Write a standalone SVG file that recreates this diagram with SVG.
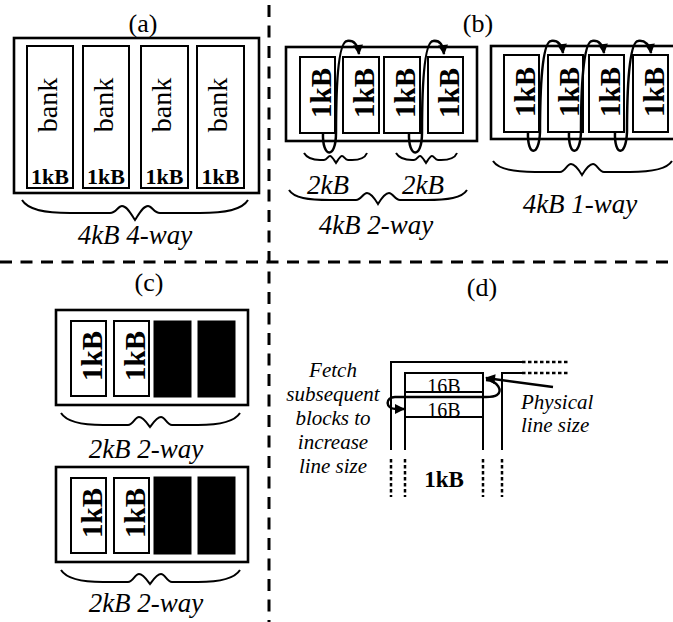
<svg xmlns="http://www.w3.org/2000/svg" width="673" height="622" viewBox="0 0 673 622">
<defs>
<marker id="ah" viewBox="0 0 10 10" refX="9" refY="5" markerWidth="11" markerHeight="10" markerUnits="userSpaceOnUse" orient="auto"><path d="M0,0 L10,5 L0,10 z" fill="#000"/></marker>
</defs>
<style>
.outer{fill:none;stroke:#000;stroke-width:2.6}
.box{fill:#fff;stroke:#000;stroke-width:2}
.blk{fill:#000;stroke:#000;stroke-width:1}
.t{font-family:"Liberation Serif","Times New Roman",serif;fill:#000}
.lbl{font-size:26px;text-anchor:middle}
.it{font-style:italic;font-size:27px;text-anchor:middle}
.b29{font-weight:bold;font-size:29px;text-anchor:middle}
.b22{font-weight:bold;font-size:22px;text-anchor:middle}
.bank{font-size:28px;text-anchor:middle}
.sm{font-style:italic;font-size:21px}
.brace{fill:none;stroke:#000;stroke-width:2}
.loop{fill:none;stroke:#000;stroke-width:2.5;marker-end:url(#ah)}
.dash{fill:none;stroke:#000;stroke-width:3;stroke-dasharray:12 8.5}
.ln{fill:none;stroke:#000;stroke-width:2}
.dot{fill:none;stroke:#000;stroke-width:2.5;stroke-dasharray:3.5 2.5}
</style>
<rect x="0" y="0" width="673" height="622" fill="#fff"/>

<g id="dividers">
<path class="dash" d="M 0 262 H 673"/>
<path class="dash" d="M 269 5 V 622"/>
</g>

<g id="panel-a">
<text class="t lbl" x="143" y="32">(a)</text>
<rect class="outer" x="14" y="38" width="245" height="155"/>
<g id="a-bank1"><rect class="box" x="27" y="46" width="46" height="142"/><text class="t bank" transform="translate(57,105) rotate(-90)">bank</text><text class="t b22" x="50" y="184">1kB</text></g>
<g id="a-bank2"><rect class="box" x="83" y="46" width="46" height="142"/><text class="t bank" transform="translate(113,105) rotate(-90)">bank</text><text class="t b22" x="106" y="184">1kB</text></g>
<g id="a-bank3"><rect class="box" x="141" y="46" width="47" height="142"/><text class="t bank" transform="translate(171,105) rotate(-90)">bank</text><text class="t b22" x="164.5" y="184">1kB</text></g>
<g id="a-bank4"><rect class="box" x="197" y="46" width="47" height="142"/><text class="t bank" transform="translate(227,105) rotate(-90)">bank</text><text class="t b22" x="220.5" y="184">1kB</text></g>
<path class="brace" d="M 22 200 C 28 210, 45 213, 70 213 L 110 213 C 116 213, 118 206, 122 206 C 127 206, 131 214, 135 220 C 139 214, 143 206, 148 206 C 152 206, 154 213, 160 213 L 200 213 C 225 213, 242 210, 248 200"/>
<text class="t it" x="135" y="244">4kB 4-way</text>
</g>

<g id="panel-b">
<text class="t lbl" x="478" y="32">(b)</text>
<g id="b-2way">
<rect class="outer" x="286" y="47" width="191" height="94"/>
<rect class="box" x="300" y="57" width="35" height="76"/><text class="t b29" transform="translate(331,93) rotate(-90)">1kB</text>
<rect class="box" x="343" y="57" width="36" height="76"/><text class="t b29" transform="translate(374,93) rotate(-90)">1kB</text>
<rect class="box" x="384" y="57" width="36" height="76"/><text class="t b29" transform="translate(415,93) rotate(-90)">1kB</text>
<rect class="box" x="428" y="57" width="35" height="76"/><text class="t b29" transform="translate(459,93) rotate(-90)">1kB</text>
<path class="brace" d="M 304 153 C 307 158, 313 160, 320 160 L 324 160 C 327 160, 328 156, 330 156 C 332 156, 334 160, 336 163 C 338 160, 340 156, 342 156 C 344 156, 345 160, 348 160 L 352 160 C 359 160, 365 158, 367 153"/>
<path class="brace" d="M 396 153 C 399 158, 405 160, 412 160 L 414 160 C 417 160, 418 156, 420 156 C 422 156, 424 160, 426 163 C 428 160, 430 156, 432 156 C 434 156, 435 160, 438 160 L 441 160 C 448 160, 455 158, 457 153"/>
<text class="t it" x="328" y="194">2kB</text>
<text class="t it" x="423" y="194">2kB</text>
<path class="brace" d="M 289 190 C 294 198, 308 200, 330 200 L 356 200 C 361 200, 363 193, 367 193 C 371 193, 375 199, 378 204 C 381 199, 385 193, 389 193 C 393 193, 395 200, 400 200 L 426 200 C 448 200, 462 198, 467 190"/>
<text class="t it" x="376" y="234">4kB 2-way</text>
</g>
<g id="b-1way">
<rect class="outer" x="491" y="46" width="200" height="93"/>
<rect class="box" x="504" y="55" width="35" height="77"/><text class="t b29" transform="translate(535,92) rotate(-90)">1kB</text>
<rect class="box" x="548" y="55" width="35" height="77"/><text class="t b29" transform="translate(579,92) rotate(-90)">1kB</text>
<rect class="box" x="589" y="55" width="35" height="77"/><text class="t b29" transform="translate(620,92) rotate(-90)">1kB</text>
<rect class="box" x="633" y="55" width="35" height="77"/><text class="t b29" transform="translate(664,92) rotate(-90)">1kB</text>
<path class="brace" d="M 493 161 C 498 169, 512 172, 535 172 L 560 172 C 565 172, 567 164, 571 164 C 575 164, 579 170, 582 175 C 585 170, 589 164, 593 164 C 597 164, 599 172, 604 172 L 630 172 C 652 172, 667 169, 672 161"/>
<text class="t it" x="580" y="213">4kB 1-way</text>
</g>
</g>

<g id="panel-c">
<text class="t lbl" x="149" y="291">(c)</text>
<g id="c-top">
<rect class="outer" x="56" y="310" width="192" height="95"/>
<rect class="box" x="71" y="321" width="35" height="75"/><text class="t b29" transform="translate(102,356) rotate(-90)">1kB</text>
<rect class="box" x="114" y="321" width="35" height="75"/><text class="t b29" transform="translate(145,356) rotate(-90)">1kB</text>
<rect class="blk" x="154" y="321" width="37" height="76"/>
<rect class="blk" x="198" y="321" width="37" height="76"/>
<path class="brace" d="M 61 413 C 66 421, 80 425, 103 425 L 128 425 C 133 425, 135 417, 139 417 C 143 417, 147 423, 150 427 C 153 423, 157 417, 161 417 C 165 417, 167 425, 172 425 L 198 425 C 221 425, 235 421, 240 413"/>
<text class="t it" x="146" y="458">2kB 2-way</text>
</g>
<g id="c-bottom">
<rect class="outer" x="56" y="467" width="192" height="95"/>
<rect class="box" x="71" y="478" width="35" height="75"/><text class="t b29" transform="translate(102,513) rotate(-90)">1kB</text>
<rect class="box" x="114" y="478" width="35" height="75"/><text class="t b29" transform="translate(145,513) rotate(-90)">1kB</text>
<rect class="blk" x="154" y="477" width="37" height="77"/>
<rect class="blk" x="198" y="477" width="37" height="77"/>
<path class="brace" d="M 61 570 C 66 578, 80 582, 103 582 L 128 582 C 133 582, 135 574, 139 574 C 143 574, 147 580, 150 584 C 153 580, 157 574, 161 574 C 165 574, 167 582, 172 582 L 198 582 C 221 582, 235 578, 240 570"/>
<text class="t it" x="146" y="612">2kB 2-way</text>
</g>
</g>

<g id="panel-d">
<text class="t lbl" x="482" y="296">(d)</text>
<text class="t" font-size="20" text-anchor="middle" x="444" y="393">16B</text>
<text class="t" font-size="20" text-anchor="middle" x="444" y="417">16B</text>
<path class="ln" d="M 391 450 V 362 H 522"/>
<path class="dot" d="M 522 362 H 569"/>
<path class="ln" d="M 405 450 V 373 H 483 V 450 M 405 392 H 483 M 405 417 H 483"/>
<path class="ln" d="M 502 450 V 373 H 522"/>
<path class="dot" d="M 522 373 H 569"/>
<path class="dot" d="M 391 459 V 497 M 405 459 V 497 M 483 459 V 497 M 502 459 V 497"/>
<text class="t" font-weight="bold" font-size="23" text-anchor="middle" x="444" y="487">1kB</text>
<g class="t sm" text-anchor="middle">
<text x="333" y="377">Fetch</text>
<text x="333" y="401">subsequent</text>
<text x="333" y="425">blocks to</text>
<text x="333" y="449">increase</text>
<text x="333" y="473">line size</text>
</g>
<text class="t sm" x="521" y="409">Physical</text>
<text class="t sm" x="521" y="432">line size</text>
</g>

<g id="connectors">
<path class="loop" d="M 323 133 C 322 158, 336 160, 336 133 C 336 90, 338 42, 347 41 C 354 40, 358 45, 359 54"/>
<path class="loop" d="M 409 133 C 408 158, 422 160, 422 133 C 422 90, 424 42, 433 41 C 440 40, 443 45, 444 54"/>
<path class="loop" d="M 528 132 C 527 156, 539 158, 540 132 C 540 90, 542 42, 551 41 C 558 40, 562 45, 563 53"/>
<path class="loop" d="M 569 132 C 568 156, 580 158, 581 132 C 581 90, 583 42, 592 41 C 599 40, 603 45, 604 53"/>
<path class="loop" d="M 615 132 C 614 156, 626 158, 627 132 C 627 90, 629 42, 638 41 C 645 40, 650 45, 651 53"/>
<path class="loop" d="M 486 380 C 498 381, 503 391, 497 395 C 494 397, 490 397, 486 397 L 395 397 C 385 397, 385 409, 396 409 L 404 409"/>
<path class="loop" d="M 553 387 L 486 378"/>
</g>
</svg>
